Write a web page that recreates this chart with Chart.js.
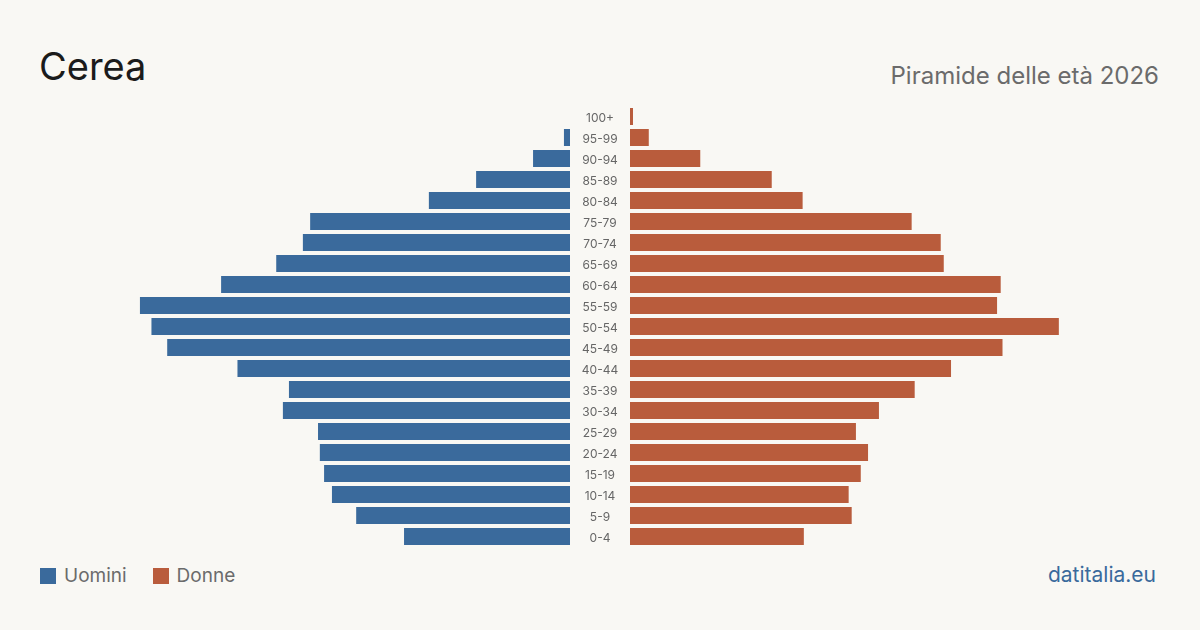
<!DOCTYPE html>
<html lang="it">
<head>
<meta charset="utf-8">
<title>Cerea - Piramide delle età 2026</title>
<script src="https://cdn.jsdelivr.net/npm/chart.js@4/dist/chart.umd.min.js"></script>
<style>
	html, body {
		margin: 0;
		padding: 0;
		background: #f9f8f4;
	}
	#page {
		position: relative;
		width: 1200px;
		height: 630px;
		background: #f9f8f4;
		font-family: Inter, "Noto Sans", sans-serif;
		overflow: hidden;
	}
	#title {
		position: absolute;
		left: 39px;
		top: 41px;
		font-size: 38px;
		line-height: 50px;
		color: #1b1b1b;
	}
	#subtitle {
		position: absolute;
		right: 41px;
		top: 60px;
		font-size: 24px;
		line-height: 32px;
		color: #6b6b6b;
	}
	#left, #right {
		position: absolute;
		top: 106px;
	}
	#left { left: 0; }
	#right { left: 630px; }
	#legend {
		position: absolute;
		left: 40px;
		top: 564px;
		font-size: 19px;
		line-height: 24px;
		color: #6b6b6b;
		display: flex;
		align-items: center;
	}
	.sw {
		display: inline-block;
		width: 16px;
		height: 16px;
		margin-right: 8px;
	}
	.item {
		display: flex;
		align-items: center;
		margin-right: 26px;
	}
	#source {
		position: absolute;
		right: 44px;
		top: 562px;
		font-size: 21px;
		line-height: 26px;
		color: #3a6a9c;
	}
</style>
</head>
<body>
<div id="page">
	<div id="title">Cerea</div>
	<div id="subtitle">Piramide delle età 2026</div>
	<canvas id="left" width="630" height="441"></canvas>
	<canvas id="right" width="570" height="441"></canvas>
	<div id="legend">
		<span class="item"><span class="sw" style="background:#3a6a9c"></span>Uomini</span>
		<span class="item"><span class="sw" style="background:#b95c3c"></span>Donne</span>
	</div>
	<div id="source">datitalia.eu</div>
</div>
<script>
	// age classes, youngest first
	const ageGroups = [
		"0-4", "5-9", "10-14", "15-19", "20-24", "25-29", "30-34",
		"35-39", "40-44", "45-49", "50-54", "55-59", "60-64", "65-69",
		"70-74", "75-79", "80-84", "85-89", "90-94", "95-99", "100+",
	]
	const uomini = [
		274, 353, 393, 406, 413, 416, 474,
		464, 549, 665, 691, 710, 576, 485,
		441, 429, 233, 155, 61, 10, 0,
	]
	const donne = [
		287, 366, 361, 381, 393, 373, 411,
		470, 530, 615, 708, 606, 612, 518,
		513, 465, 285, 234, 116, 31, 5,
	]
	const axisMax = 875

	const BLUE = "#3a6a9c"
	const RED = "#b95c3c"

	// draws the age labels in the gap between the two halves
	const ageLabels = {
		id: "ageLabels",
		afterDraw(chart) {
			const { ctx, chartArea, scales } = chart
			ctx.save()
			ctx.font = "12px Inter, 'Noto Sans', sans-serif"
			ctx.fillStyle = "#666666"
			ctx.textAlign = "center"
			ctx.textBaseline = "middle"
			ageGroups.forEach((lab, i) => {
				ctx.fillText(lab, chartArea.right + 30, scales.y.getPixelForValue(i) + 1.5)
			})
			ctx.restore()
		},
	}

	const makeOptions = (reverse, padding) => ({
		indexAxis: "y",
		responsive: false,
		devicePixelRatio: 1,
		animation: false,
		layout: { padding: padding },
		scales: {
			x: {
				display: false,
				min: 0,
				max: axisMax,
				reverse: reverse,
			},
			y: {
				display: false,
				reverse: true,
			},
		},
		plugins: {
			legend: { display: false },
			tooltip: { enabled: false },
		},
	})

	new Chart(document.getElementById("left"), {
		type: "bar",
		data: {
			labels: ageGroups,
			datasets: [{
				label: "Uomini",
				data: uomini,
				backgroundColor: BLUE,
				borderWidth: 0,
				barPercentage: 0.81,
				categoryPercentage: 1,
			}],
		},
		options: makeOptions(true, { left: 40, right: 60, top: 0, bottom: 0 }),
		plugins: [ageLabels],
	})

	new Chart(document.getElementById("right"), {
		type: "bar",
		data: {
			labels: ageGroups,
			datasets: [{
				label: "Donne",
				data: donne,
				backgroundColor: RED,
				borderWidth: 0,
				barPercentage: 0.81,
				categoryPercentage: 1,
			}],
		},
		options: makeOptions(false, { left: 0, right: 40, top: 0, bottom: 0 }),
	})
</script>
</body>
</html>
